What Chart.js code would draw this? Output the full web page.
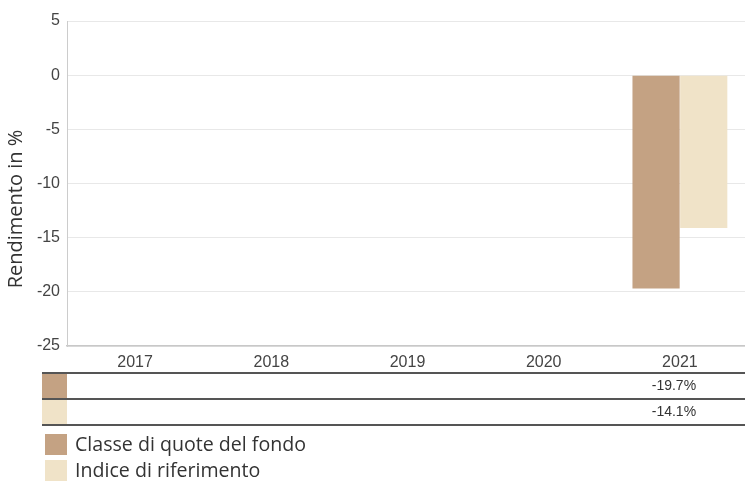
<!DOCTYPE html>
<html>
<head>
<meta charset="utf-8">
<script src="https://cdn.jsdelivr.net/npm/chart.js@4"></script>
<style>
  html, body { margin: 0; padding: 0; background: #fff; overflow: hidden; }
  #wrap { width: 745px; height: 481px; overflow: hidden; }
</style>
</head>
<body>
<div id="wrap"><canvas id="perf-chart" width="748" height="481"></canvas></div>
<script>
// data
const years = ["2017", "2018", "2019", "2020", "2021"];
const fundValues = [null, null, null, null, -19.7];
const indexValues = [null, null, null, null, -14.1];
const fundLabel = "Classe di quote del fondo";
const indexLabel = "Indice di riferimento";
const yTicks = [5, 0, -5, -10, -15, -20, -25];
const yTitle = "Rendimento in %";

const fundColor = "#c4a283";
const indexColor = "#f0e3c8";

// y title, table under the axis + legend
const tablePlugin = {
  id: "perfTable",
  afterDraw(chart) {
    const ctx = chart.ctx;
    const x = chart.scales.x;
    const top = 373, rowH = 26, left = 42, right = 745;
    ctx.save();

    // axis title
    ctx.save();
    ctx.translate(16, 209);
    ctx.rotate(-Math.PI / 2);
    ctx.fillStyle = "#333";
    ctx.font = "20px 'Open Sans', sans-serif";
    ctx.textAlign = "center";
    ctx.textBaseline = "middle";
    ctx.fillText(yTitle, 0, 0);
    ctx.restore();

    chart.data.datasets.forEach((ds, r) => {
      const y0 = top + r * rowH;
      ctx.fillStyle = ds.backgroundColor;
      ctx.fillRect(left, y0 + 1, 25, rowH - 2);
      ctx.fillStyle = "#333";
      ctx.font = "14px 'Liberation Sans', Arial, sans-serif";
      ctx.textAlign = "center";
      ctx.textBaseline = "middle";
      ds.data.forEach((v, i) => {
        if (v === null) return;
        ctx.fillText(v.toFixed(1) + "%", x.getPixelForValue(i) - 6, y0 + rowH / 2);
      });
    });
    ctx.strokeStyle = "#555";
    ctx.lineWidth = 2;
    for (let r = 0; r <= chart.data.datasets.length; r++) {
      const y = top + r * rowH;
      ctx.beginPath();
      ctx.moveTo(left, y);
      ctx.lineTo(right, y);
      ctx.stroke();
    }
    // legend
    ctx.font = "19.6px 'Open Sans', sans-serif";
    ctx.textAlign = "left";
    ctx.textBaseline = "middle";
    chart.data.datasets.forEach((ds, r) => {
      const y0 = 434 + r * 26;
      ctx.fillStyle = ds.backgroundColor;
      ctx.fillRect(45, y0, 22, 21);
      ctx.fillStyle = "#333";
      ctx.fillText(ds.label, 75, y0 + 11);
    });
    ctx.restore();
  }
};

const perfCanvas = document.getElementById("perf-chart");

const perfData = {
  labels: years,
  datasets: [
    { label: fundLabel, data: fundValues, backgroundColor: fundColor, borderWidth: 0 },
    { label: indexLabel, data: indexValues, backgroundColor: indexColor, borderWidth: 0 }
  ]
};

const perfOptions = {
  responsive: false,
  animation: { duration: 0 },
  layout: { padding: { top: 21, right: 0, bottom: 0, left: 0 } },
  datasets: { bar: { categoryPercentage: 0.7, barPercentage: 0.99 } },
  scales: {
    x: {
      grid: { display: false, drawTicks: false },
      border: { color: "#c8c8c8", width: 1.5 },
      ticks: { color: "#444", font: { size: 16, family: "'Liberation Sans', Arial, sans-serif" }, padding: 7 },
      afterFit(scale) { scale.height = 135; }
    },
    y: {
      min: -25,
      max: 5,
      afterBuildTicks(scale) { scale.ticks = yTicks.map(v => ({ value: v })); },
      grid: { color: "#e8e8e8", drawTicks: false },
      border: { color: "#ccc", width: 1 },
      ticks: { color: "#444", font: { size: 16, family: "'Liberation Sans', Arial, sans-serif" }, padding: 7 },
      afterFit(scale) { scale.width = 67; }
    }
  },
  plugins: {
    legend: { display: false },
    tooltip: { enabled: false }
  }
};

const perfChart = new Chart(perfCanvas, {
  type: "bar",
  data: perfData,
  options: perfOptions,
  plugins: [tablePlugin]
});
</script>
</body>
</html>
